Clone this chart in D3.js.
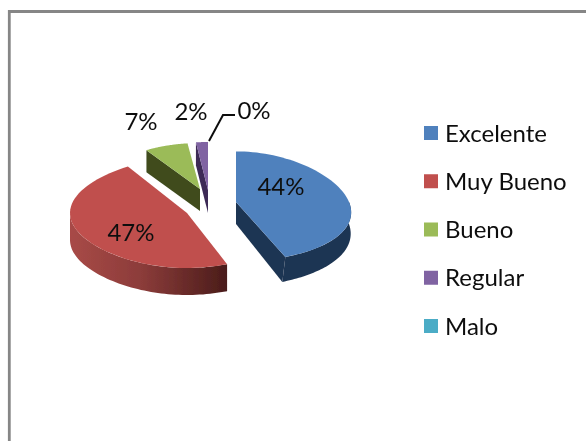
<!DOCTYPE html>
<html><head><meta charset="utf-8">
<script src="https://cdn.jsdelivr.net/npm/d3@7/dist/d3.min.js"></script>
<style>html,body{margin:0;padding:0;background:#fff}svg{display:block}text{font-family:Lato,"Open Sans",sans-serif;fill:#111}</style>
</head><body><svg id="c" width="586" height="441"></svg>
<script>
const categories = ["Excelente","Muy Bueno","Bueno","Regular","Malo"];
const values = [44,47,7,2,0];
const labels = ["44%","47%","7%","2%","0%"];
const colors = ["#4f81bd","#c0504d","#9bbb59","#8064a2","#4bacc6"];
const cutColors = ["#1f3552","#5a2220","#3f4c1f","#3d2c57","#1f5666"];

const svg = d3.select("#c");
const W = 586, H = 441;
const defs = svg.append("defs");
defs.append("filter").attr("id","soft").append("feGaussianBlur").attr("stdDeviation",0.45);
const grad = defs.append("linearGradient").attr("id","redWall");
grad.append("stop").attr("offset","0").attr("stop-color","#a84a47");
grad.append("stop").attr("offset","0.45").attr("stop-color","#8c3c3a");
grad.append("stop").attr("offset","1").attr("stop-color","#4a1c1a");

// frame
svg.append("path").attr("d",`M9.3,${H} V11.5 H${W}`).attr("fill","none").attr("stroke","#868686").attr("stroke-width",2.8);

const root = svg.append("g").attr("filter","url(#soft)");
const arcs = d3.pie().value(d=>d).sort(null)(values);
// per-slice projected placement of the exploded 3D pie
const place = [
 {ax:236,ay:202,r:113,ry:55,px:.2,pq:0,py:.08,d:22},
 {ax:187,ay:213,r:117,ry:55,px:0,pq:.08,py:0,d:27},
 {ax:200,ay:189,r:100,ry:46,px:0,pq:0,py:0,d:22},
 {ax:208,ay:190,r:96,ry:48,px:0,pq:0,py:0,d:23}
];
const norm = d3.scaleLinear().domain([0,2*Math.PI]).range([0,2*Math.PI]);
function pt(p,t){
  const a = norm(t), s=Math.sin(a), c=Math.cos(a);
  return [p.ax+p.r*s*(1-p.px*c-p.pq*c*c), p.ay-p.ry*c*(1-p.py*c)];
}
const line = d3.line();
function arcPts(p,a0,a1){return d3.range(0,61).map(i=>pt(p,a0+(a1-a0)*i/60));}

[3,2,1,0].forEach(i=>{
  const A = arcs[i], p = place[i];
  const a0=A.startAngle,a1=A.endAngle;
  const g = root.append("g");
  if(i===0){
    const e=pt(p,a1);
    g.append("path").attr("d",line([[p.ax,p.ay],e,[e[0]-3,e[1]+p.d+3],[p.ax,p.ay+p.d]])+"Z").attr("fill",cutColors[i]);
  }
  if(i===2||i===3){
    const s=pt(p,a0);
    g.append("path").attr("d",line([[p.ax,p.ay],s,[s[0],s[1]+p.d],[p.ax,p.ay+p.d]])+"Z").attr("fill",cutColors[i]);
  }
  if(i===0||i===1){
    const w0 = i===0 ? Math.PI/2 : a0, w1 = i===0 ? a1 : 1.5*Math.PI;
    const top = arcPts(p,w0,w1);
    const bot = top.map((q,j)=>[q[0]-(i===0?3*j/60:0), q[1]+p.d+(i===0?3*j/60:0)]).reverse();
    g.append("path").attr("d",line(top.concat(bot))+"Z")
     .attr("fill", i===0?cutColors[0]:"url(#redWall)");
  }
  g.append("path").attr("d",line([[p.ax,p.ay]].concat(arcPts(p,a0,a1)))+"Z").attr("fill",colors[i]);
});

// leader line for the 0% slice
root.append("path").attr("d","M209,141 L223,115 H235").attr("fill","none").attr("stroke","#111").attr("stroke-width",2);

const fs = 24;
const labelPos = [[281,186],[131,232],[141,121],[191,111],[254,110]];
root.selectAll("text.l").data(labels).join("text").attr("class","l")
  .attr("x",(d,i)=>labelPos[i][0]).attr("y",(d,i)=>labelPos[i][1])
  .attr("dy","0.36em").attr("text-anchor","middle").attr("font-size",fs).text(d=>d);

const ly = d3.scalePoint().domain(categories).range([133,326]);
root.selectAll("rect.k").data(categories).join("rect").attr("class","k")
  .attr("x",424).attr("y",d=>ly(d)-7).attr("width",14).attr("height",14)
  .attr("fill",(d,i)=>colors[i]);
root.selectAll("text.t").data(categories).join("text").attr("class","t")
  .attr("x",445).attr("y",d=>ly(d)).attr("dy","0.36em").attr("font-size",fs).text(d=>d);
</script></body></html>
